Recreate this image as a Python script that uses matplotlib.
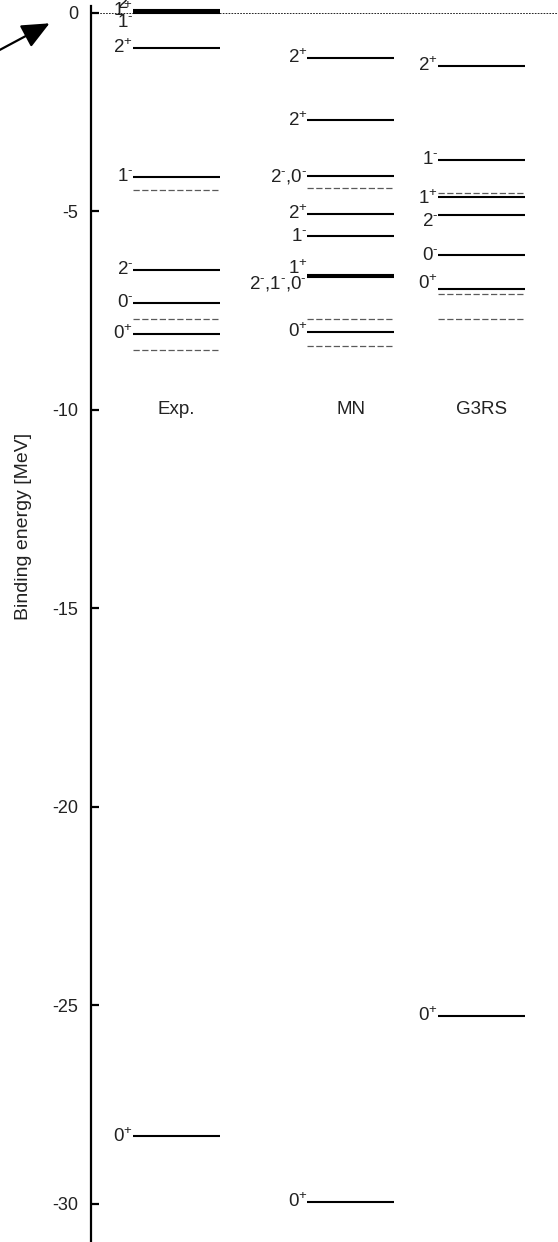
import matplotlib
matplotlib.use("Agg")
import matplotlib.pyplot as plt

plt.rcParams["font.family"] = ["Liberation Sans", "DejaVu Sans"]
plt.rcParams["mathtext.fontset"] = "custom"
plt.rcParams["mathtext.rm"] = "Liberation Sans"
plt.rcParams["mathtext.it"] = "Liberation Sans:italic"
plt.rcParams["mathtext.default"] = "regular"
plt.rcParams["axes.unicode_minus"] = False

# ---------------------------------------------- Level data (MeV) --------------------------------------------------------------#

column_names = ["Exp.", "MN", "G3RS"]

exp_levels = [0.07, 0.03, -0.01, -0.87, -4.12, -6.47, -7.30, -8.09, -28.30]
exp_labels = ["2-", "1+", "1-", "2+", "1-", "2-", "0-", "0+", "0+"]
exp_thresholds = [-4.46, -7.72, -8.49]

mn_levels = [-1.13, -2.70, -4.11, -5.06, -5.63, -6.59, -6.65, -8.03, -29.95]
mn_labels = ["2+", "2+", "2-,0-", "2+", "1-", "1+", "2-,1-,0-", "0+", "0+"]
mn_thresholds = [-4.40, -7.72, -8.39]

g3rs_levels = [-1.33, -3.70, -4.63, -5.09, -6.10, -6.95, -25.26]
g3rs_labels = ["2+", "1-", "1+", "2-", "0-", "0+", "0+"]
g3rs_thresholds = [-4.54, -7.08, -7.72]

y_ticks = [0, -5, -10, -15, -20, -25, -30]

# ---------------------------------------------- Layout --------------------------------------------------------------#

col_left = [0.90, 4.63, 7.43]
col_width = 1.86
title_y = -10.0

# small vertical shifts so crowded labels don't sit on top of each other
label_nudge = {
    (0, 0): 0.18, (0, 1): 0.02, (0, 2): -0.24,
    (1, 5): 0.16, (1, 6): -0.16,
    (2, 2): -0.05, (2, 3): -0.16, (2, 5): 0.14,
}


def spin_parity(label):
    """Turns '2-,0-' into mathtext with the parities as superscripts."""
    out = ""
    for ch in label:
        if ch == "+":
            out += "$^{+}$"
        elif ch == "-":
            out += "$^{\u2010}$"
        else:
            out += ch
    return out


fig = plt.figure(figsize=(5.58, 12.42), dpi=100)
ax = fig.add_axes([91 / 558, 0, 1 - 91 / 558, 1 - 6 / 1242])
ax.set_xlim(0, 10)
ax.set_ylim(-30.96, 0.176)

for side in ["top", "right", "bottom"]:
    ax.spines[side].set_visible(False)
ax.spines["left"].set_linewidth(1.6)
ax.set_xticks([])
ax.set_yticks(y_ticks)
ax.tick_params(axis="y", direction="in", length=6, width=1.6, labelsize=13, pad=9,
               labelcolor="#222222")

# break-up threshold reference
ax.axhline(0, color="k", lw=0.6, ls=(0, (2, 1.5)), zorder=1)

columns = [
    (exp_levels, exp_labels, exp_thresholds),
    (mn_levels, mn_labels, mn_thresholds),
    (g3rs_levels, g3rs_labels, g3rs_thresholds),
]

for i, (levels, labels, thresholds) in enumerate(columns):
    x0 = col_left[i]
    x1 = x0 + col_width
    ax.hlines(thresholds, x0, x1, colors="#5a5a5a", lw=0.9, linestyles=[(0, (5, 2))], zorder=2)
    ax.hlines(levels, x0, x1, colors="k", lw=1.5, zorder=3)
    for j, (e, lab) in enumerate(zip(levels, labels)):
        ax.text(x0, e + label_nudge.get((i, j), 0.0), spin_parity(lab), ha="right", va="center",
                fontsize=13.5, color="#222222", clip_on=False)
    ax.text(x0 + col_width / 2, title_y, column_names[i], ha="center", va="center",
            fontsize=13.5, color="#222222")

fig.text(24 / 558, 716 / 1242, "Binding energy [MeV]", rotation=90,
         ha="center", va="center", fontsize=14, color="#222222")

ax.annotate("", xy=(52, 1220), xycoords="figure pixels",
            xytext=(-6, 1189), textcoords="figure pixels",
            arrowprops=dict(arrowstyle="-|>,head_length=0.85,head_width=0.38",
                            color="k", lw=1.6, mutation_scale=20),
            annotation_clip=False)

fig.savefig("out.png", dpi=100)
